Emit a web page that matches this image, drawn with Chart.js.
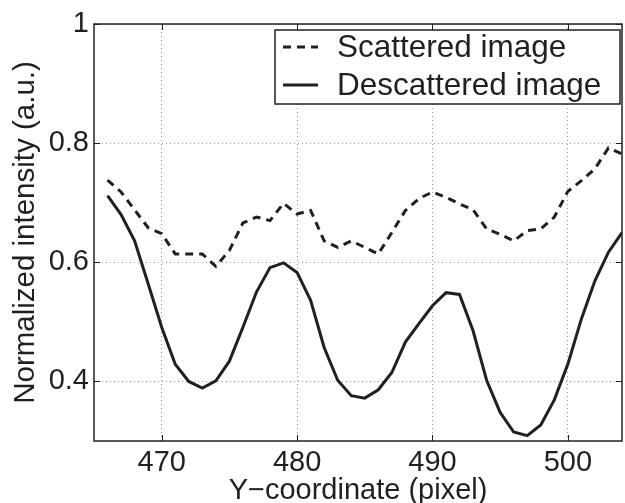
<!DOCTYPE html>
<html>
<head>
<meta charset="utf-8">
<script src="https://cdn.jsdelivr.net/npm/chart.js@4/dist/chart.umd.min.js"></script>
<style>
  html, body { margin: 0; padding: 0; background: #fff; }
  #wrap { width: 625px; height: 503px; }
</style>
</head>
<body>
<div id="wrap"><canvas id="myChart" width="625" height="503"></canvas></div>
<script>
// Y-coordinate (pixel) positions along the profile
const pixels = [466, 467, 468, 469, 470, 471, 472, 473, 474, 475,
                476, 477, 478, 479, 480, 481, 482, 483, 484, 485,
                486, 487, 488, 489, 490, 491, 492, 493, 494, 495,
                496, 497, 498, 499, 500, 501, 502, 503, 504];

// dashed curve
const scattered = [0.738, 0.718, 0.688, 0.658, 0.648, 0.614, 0.614, 0.614, 0.593, 0.620,
                   0.666, 0.676, 0.670, 0.699, 0.681, 0.687, 0.636, 0.625, 0.636, 0.625,
                   0.614, 0.650, 0.687, 0.707, 0.718, 0.709, 0.698, 0.688, 0.656, 0.647,
                   0.636, 0.653, 0.656, 0.676, 0.719, 0.737, 0.757, 0.792, 0.782];

// solid curve
const descattered = [0.712, 0.680, 0.636, 0.564, 0.491, 0.429, 0.400, 0.389, 0.401, 0.434,
                     0.491, 0.550, 0.591, 0.599, 0.583, 0.536, 0.457, 0.402, 0.376, 0.372,
                     0.386, 0.415, 0.466, 0.497, 0.527, 0.549, 0.546, 0.485, 0.402, 0.348,
                     0.315, 0.309, 0.327, 0.369, 0.429, 0.505, 0.569, 0.617, 0.650];

const xTicks = [470, 480, 490, 500];
const yTicks = [0.4, 0.6, 0.8, 1];

const ink = '#231f20';
const font = 'Liberation Sans, Arial, Helvetica, sans-serif';

// box round the plot + MATLAB style inward ticks
const boxPlugin = {
  id: 'box',
  afterDatasetsDraw(chart) {
    const {ctx, chartArea: a, scales} = chart;
    ctx.save();
    ctx.strokeStyle = ink;
    ctx.lineWidth = 1.5;
    ctx.setLineDash([]);
    ctx.strokeRect(a.left, a.top, a.right - a.left, a.bottom - a.top);
    ctx.lineWidth = 1;
    const len = 6;
    ctx.beginPath();
    xTicks.forEach(v => {
      const x = Math.round(scales.x.getPixelForValue(v)) + 0.5;
      ctx.moveTo(x, a.bottom); ctx.lineTo(x, a.bottom - len);
      ctx.moveTo(x, a.top); ctx.lineTo(x, a.top + len);
    });
    yTicks.forEach(v => {
      const y = Math.round(scales.y.getPixelForValue(v)) + 0.5;
      ctx.moveTo(a.left, y); ctx.lineTo(a.left + len, y);
      ctx.moveTo(a.right, y); ctx.lineTo(a.right - len, y);
    });
    ctx.stroke();
    ctx.restore();
  }
};

// legend with a frame, inside the top right corner
const legendBox = {
  id: 'legendBox',
  afterDraw(chart) {
    const {ctx, chartArea: a} = chart;
    const x0 = 275, y0 = 30, x1 = a.right - 2, y1 = 104;
    ctx.save();
    ctx.fillStyle = '#fff';
    ctx.fillRect(x0, y0, x1 - x0, y1 - y0);
    ctx.strokeStyle = ink;
    ctx.lineWidth = 1.5;
    ctx.strokeRect(x0, y0, x1 - x0, y1 - y0);
    ctx.font = '31.5px ' + font;
    ctx.textBaseline = 'alphabetic';
    ctx.fillStyle = ink;
    const rows = [57, 95];
    chart.data.datasets.forEach((ds, i) => {
      const y = rows[i] - 10;
      ctx.beginPath();
      ctx.lineWidth = ds.borderWidth;
      ctx.strokeStyle = ds.borderColor;
      ctx.setLineDash(ds.borderDash || []);
      ctx.moveTo(283, y);
      ctx.lineTo(318, y);
      ctx.stroke();
      ctx.setLineDash([]);
      ctx.fillText(ds.label, 337, rows[i]);
    });
    ctx.restore();
  }
};

const ctx = document.getElementById('myChart').getContext('2d');

const chart = new Chart(ctx, {
  type: 'line',
  data: {
    datasets: [
      {
        label: 'Scattered image',
        data: pixels.map((p, i) => ({x: p, y: scattered[i]})),
        borderColor: ink,
        borderWidth: 3,
        borderDash: [8, 6],
        pointRadius: 0,
        tension: 0,
        fill: false
      },
      {
        label: 'Descattered image',
        data: pixels.map((p, i) => ({x: p, y: descattered[i]})),
        borderColor: ink,
        borderWidth: 3,
        pointRadius: 0,
        tension: 0,
        fill: false
      }
    ]
  },
  options: {
    responsive: false,
    animation: false,
    layout: { padding: { top: 24, right: 3, left: 0, bottom: 0 } },
    plugins: {
      legend: { display: false },
      tooltip: { enabled: false }
    },
    scales: {
      x: {
        type: 'linear',
        min: 465,
        max: 504,
        afterBuildTicks: s => { s.ticks = xTicks.map(v => ({value: v})); },
        afterFit: s => { s.height = 62; },
        grid: { color: '#9a9a9a', lineWidth: 1, drawTicks: false },
        border: { display: false, dash: [1, 3] },
        ticks: {
          color: ink,
          padding: 5,
          maxRotation: 0,
          font: { family: font, size: 29 }
        },
        title: {
          display: true,
          text: 'Y\u2212coordinate (pixel)',
          color: ink,
          font: { family: font, size: 29, lineHeight: 0.85 },
          padding: { top: 0, bottom: 0 }
        }
      },
      y: {
        min: 0.3,
        max: 1,
        afterBuildTicks: s => { s.ticks = yTicks.map(v => ({value: v})); },
        afterFit: s => { s.width = 94; },
        grid: { color: '#9a9a9a', lineWidth: 1, drawTicks: false },
        border: { display: false, dash: [1, 3] },
        ticks: {
          color: ink,
          padding: 5,
          font: { family: font, size: 29 },
          callback: v => String(Math.round(v * 10) / 10)
        },
        title: {
          display: true,
          text: 'Normalized intensity (a.u.)',
          color: ink,
          font: { family: font, size: 29.5, lineHeight: 1.2 },
          padding: { top: 8, bottom: 0 }
        }
      }
    }
  },
  plugins: [boxPlugin, legendBox]
});
</script>
</body>
</html>
